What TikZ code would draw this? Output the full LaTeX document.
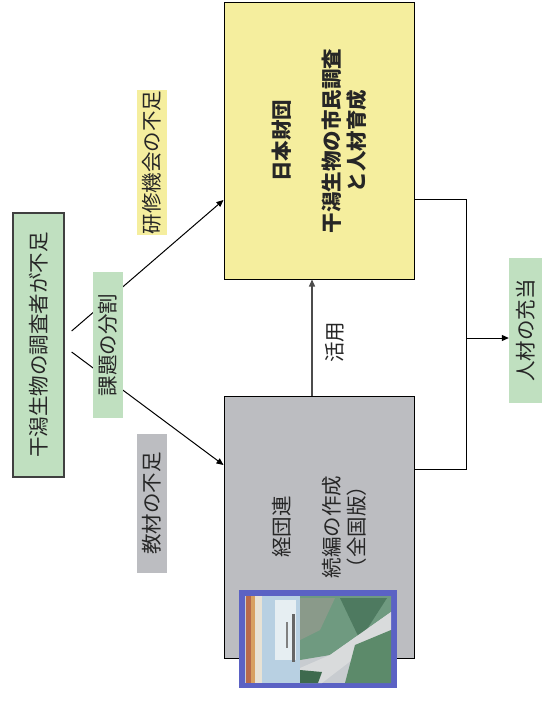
\documentclass[tikz,border=0pt]{standalone}
\usepackage{fontspec}
\setmainfont{Noto Sans CJK JP}
\usetikzlibrary{arrows.meta}
\definecolor{gfill}{HTML}{C0E0C0}
\definecolor{yfill}{HTML}{F5EE9E}
\definecolor{grfill}{HTML}{BCBDC1}
\definecolor{bframe}{HTML}{5B62C4}
\definecolor{txt}{HTML}{262626}
\definecolor{cA}{HTML}{C8CCD0}
\definecolor{cB}{HTML}{E8E2D4}
\definecolor{cC}{HTML}{B8D0E2}
\definecolor{cD}{HTML}{E6EEF2}
\definecolor{cE}{HTML}{6F9A80}
\definecolor{cF}{HTML}{4E7A60}
\definecolor{cG}{HTML}{8A9A8A}
\definecolor{cH}{HTML}{D9DBDC}
\definecolor{cI}{HTML}{5C8A6A}
\definecolor{cJ}{HTML}{3E6A4E}
\definecolor{cK}{HTML}{B86A4A}
\definecolor{cL}{HTML}{D8A060}
\begin{document}
\begin{tikzpicture}[x=1pt,y=1pt,
  lbl/.style={rotate=90, text=txt, font=\fontsize{20.5}{25}\selectfont, align=center, inner sep=0pt},
  panel/.style={draw=black, line width=1pt, inner sep=0pt},
  tag/.style={inner sep=0pt},
  conn/.style={line width=1pt, draw=black},
  arr/.style={conn, -{Triangle[length=7pt,width=6pt]}}]
\useasboundingbox (0,0) rectangle (541,-708);

% main boxes
\node[panel, draw=black!75, line width=1.3pt, fill=gfill, minimum width=51pt, minimum height=264pt] (lb) at (38.5,-345) {};
\node[lbl] (lbt) at (lb) {干潟生物の調査者が不足};

\node[panel, fill=yfill, minimum width=190pt, minimum height=276pt] (yb) at (319,-141) {};
\node[lbl, font=\fontsize{20.5}{25}\selectfont\bfseries] (ybt) at (yb) {日本財団\\[25pt]干潟生物の市民調査\\と人材育成};

\node[panel, fill=grfill, minimum width=190pt, minimum height=262pt] (gb) at (319,-527) {};
\node[lbl] (gbt) at (gb) {経団連\\[25pt]続編の作成\\（全国版）};

% tags
\node[tag, fill=yfill, minimum width=30pt, minimum height=145pt] (tk) at (152,-162.5) {};
\node[lbl] (tkt) at (tk) {研修機会の不足};
\node[tag, fill=grfill, minimum width=30pt, minimum height=139pt] (tz) at (152,-503.5) {};
\node[lbl] (tzt) at (tz) {教材の不足};
\node[tag, fill=gfill, minimum width=33pt, minimum height=145pt] (rb) at (525.5,-330.5) {};
\node[lbl] (rbt) at (rb) {人材の充当};

% diagonal connectors
\coordinate (s1) at ([xshift=7pt,yshift=14pt]lb.east);
\coordinate (s2) at ([xshift=7pt,yshift=-7pt]lb.east);
\draw[arr] (s1) -- ([yshift=-59pt]yb.west);
\draw[arr] (s2) -- ([yshift=62pt]gb.west);
\node[tag, fill=gfill, minimum width=30pt, minimum height=146pt] (kb) at (108,-345) {};
\node[lbl] (kbt) at (kb) {課題の分割};

% use arrow
\draw[arr, draw=black!70, line width=1.3pt] ([xshift=-7pt]gb.north) -- ([xshift=-7pt]yb.south);
\node[lbl] (use) at (335,-342) {活用};

% right connector
\draw[conn] ([yshift=-59pt]yb.east) -- ++(52,0) coordinate (rc) |- ([yshift=58pt]gb.east);
\coordinate (j) at (rc |- {0,-338});
\draw[arr] (j) -- ([yshift=-7.5pt]rb.west);

% picture (book cover)
\node[fill=bframe, minimum width=158pt, minimum height=98pt, inner sep=0pt] (img) at (318,-639) {};
\fill[cA] (245,-596) rectangle (391,-683);
\fill[cK] (246,-596) rectangle (251,-683);
\fill[cL] (251,-596) rectangle (255,-683);
\fill[cB] (255,-596) rectangle (262,-683);
\fill[cC] (262,-596) rectangle (300,-683);
\fill[cD] (275,-600) rectangle (296,-660);
\fill[black!60] (292,-614) rectangle (295,-662);
\fill[black!50] (286,-622) rectangle (288,-648);
\fill[cE] (300,-596) -- (391,-596) -- (391,-612) -- (330,-655) -- (300,-660) -- cycle;
\fill[cF] (340,-598) -- (387,-598) -- (360,-640) -- cycle;
\fill[cG] (300,-598) -- (335,-598) -- (320,-630) -- (300,-640) -- cycle;
\fill[cH] (300,-668) -- (330,-655) -- (391,-612) -- (391,-630) -- (322,-683) -- (300,-683) -- cycle;
\fill[cI] (355,-645) -- (391,-630) -- (391,-683) -- (345,-683) -- cycle;
\fill[cJ] (300,-670) -- (322,-672) -- (318,-683) -- (300,-683) -- cycle;
\end{tikzpicture}
\end{document}
